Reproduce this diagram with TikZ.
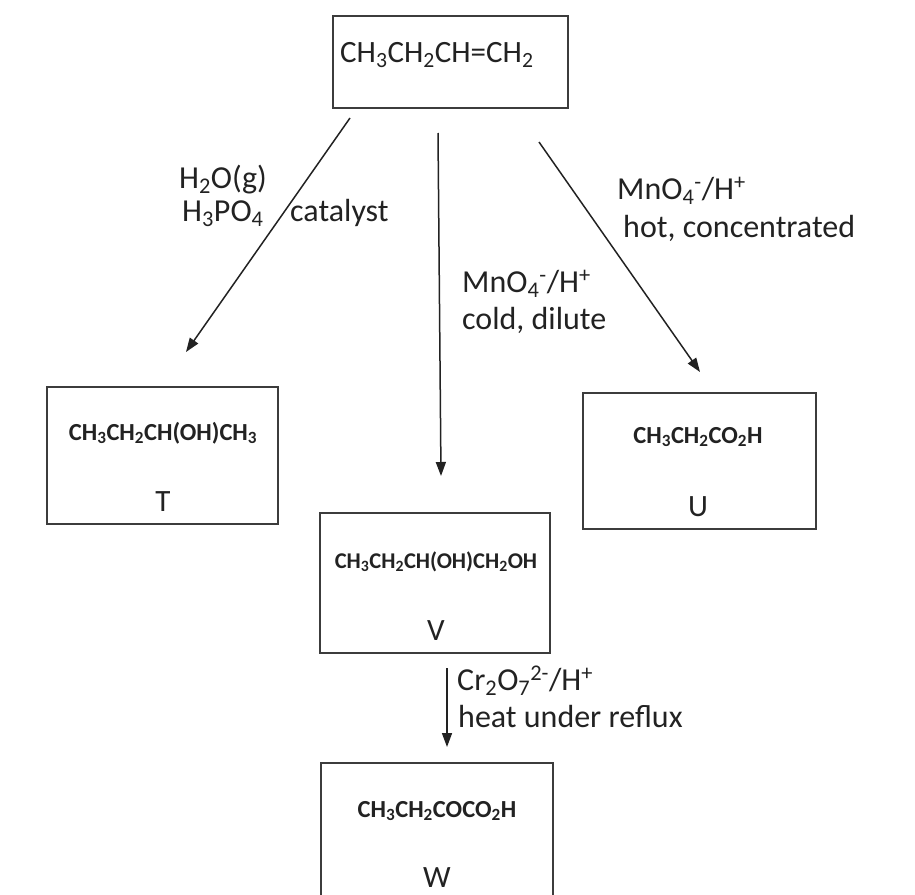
\documentclass[tikz,border=0pt]{standalone}
\usepackage{fontspec}
\setmainfont{Carlito}
\usetikzlibrary{arrows.meta,positioning}
\definecolor{ink}{HTML}{222222}
\definecolor{boxline}{HTML}{3C3C3C}
\newcommand{\chsub}[1]{\textsubscript{#1}}
\newcommand{\chsup}[1]{\textsuperscript{#1}}

\begin{document}
\begin{tikzpicture}[x=1pt,y=-1pt,>={Triangle[length=14pt,width=10pt]}]
 \tikzset{
  chembox/.style={draw=boxline,line width=2pt,anchor=north west,inner sep=0pt,outer sep=0pt},
  chem/.style={anchor=base,inner sep=0pt,font=\bfseries\fontsize{24.5}{29}\selectfont,text=ink},
  tag/.style={anchor=base,inner sep=0pt,font=\fontsize{31}{37}\selectfont,text=ink},
  cond/.style={anchor=base west,inner sep=0pt,font=\fontsize{32}{38}\selectfont,text=ink},
  route/.style={draw=ink,line width=1.5pt,->}}
 \useasboundingbox (0,0) rectangle (915,894);
 \clip (0,0) rectangle (915,894);
 % starting alkene
 \node[chembox,minimum width=235pt,minimum height=92pt] (alkene) at (333,16) {};
 \node[anchor=base west,inner sep=0pt,font=\fontsize{31}{37}\selectfont,text=ink] (alkenef) at (340,62) {CH\chsub{3}CH\chsub{2}CH=CH\chsub{2}};
 % products
 \node[chembox,minimum width=231pt,minimum height=137pt] (T) at (47,387) {};
 \node[chem] (Tf) at (163,440) {CH\chsub{3}CH\chsub{2}CH(OH)CH\chsub{3}};
 \node[tag] (Tl) at (163,511) {T};
 \node[chembox,minimum width=233pt,minimum height=136pt] (U) at (583,393) {};
 \node[chem] (Uf) at (698,443) {CH\chsub{3}CH\chsub{2}CO\chsub{2}H};
 \node[tag] (Ul) at (698,516) {U};
 \node[chembox,minimum width=230pt,minimum height=140pt] (V) at (320,513) {};
 \node[chem,font=\bfseries\fontsize{22.5}{27}\selectfont] (Vf) at (436,568) {CH\chsub{3}CH\chsub{2}CH(OH)CH\chsub{2}OH};
 \node[tag] (Vl) at (436,640) {V};
 \node[chembox,minimum width=232pt,minimum height=150pt] (W) at (321,763) {};
 \node[chem] (Wf) at (437,817) {CH\chsub{3}CH\chsub{2}COCO\chsub{2}H};
 \node[tag] (Wl) at (437,887) {W};
 % arrow ends
 \coordinate (toT) at (350,118);
 \coordinate (atT) at (186,352);
 \coordinate (toV) at (438,133);
 \coordinate (atV) at (441,476);
 \coordinate (toU) at (539,142);
 \coordinate (atU) at (700,372);
 \coordinate (toW) at (447,668);
 \coordinate (atW) at (447,747);
 \draw[route] (toT) -- (atT);
 \draw[route] (toV) -- (atV);
 \draw[route] (toU) -- (atU);
 \draw[route] (toW) -- (atW);
 % conditions
 \node[cond] (hyd1) at (179,188) {H\chsub{2}O(g)};
 \node[cond] (hyd2) at (182,221) {H\chsub{3}PO\chsub{4}};
 \node[cond] (hyd3) at (290,221) {catalyst};
 \node[cond] (hot1) at (617,199) {MnO\chsub{4}\chsup{-}/H\chsup{+}};
 \node[cond] (hot2) at (623,237) {hot, concentrated};
 \node[cond] (cold1) at (462,292) {MnO\chsub{4}\chsup{-}/H\chsup{+}};
 \node[cond] (cold2) at (462,329) {cold, dilute};
 \node[cond] (ox1) at (457,690) {Cr\chsub{2}O\chsub{7}\chsup{2-}/H\chsup{+}};
 \node[cond] (ox2) at (458,727) {heat under reflux};
\end{tikzpicture}
\end{document}
